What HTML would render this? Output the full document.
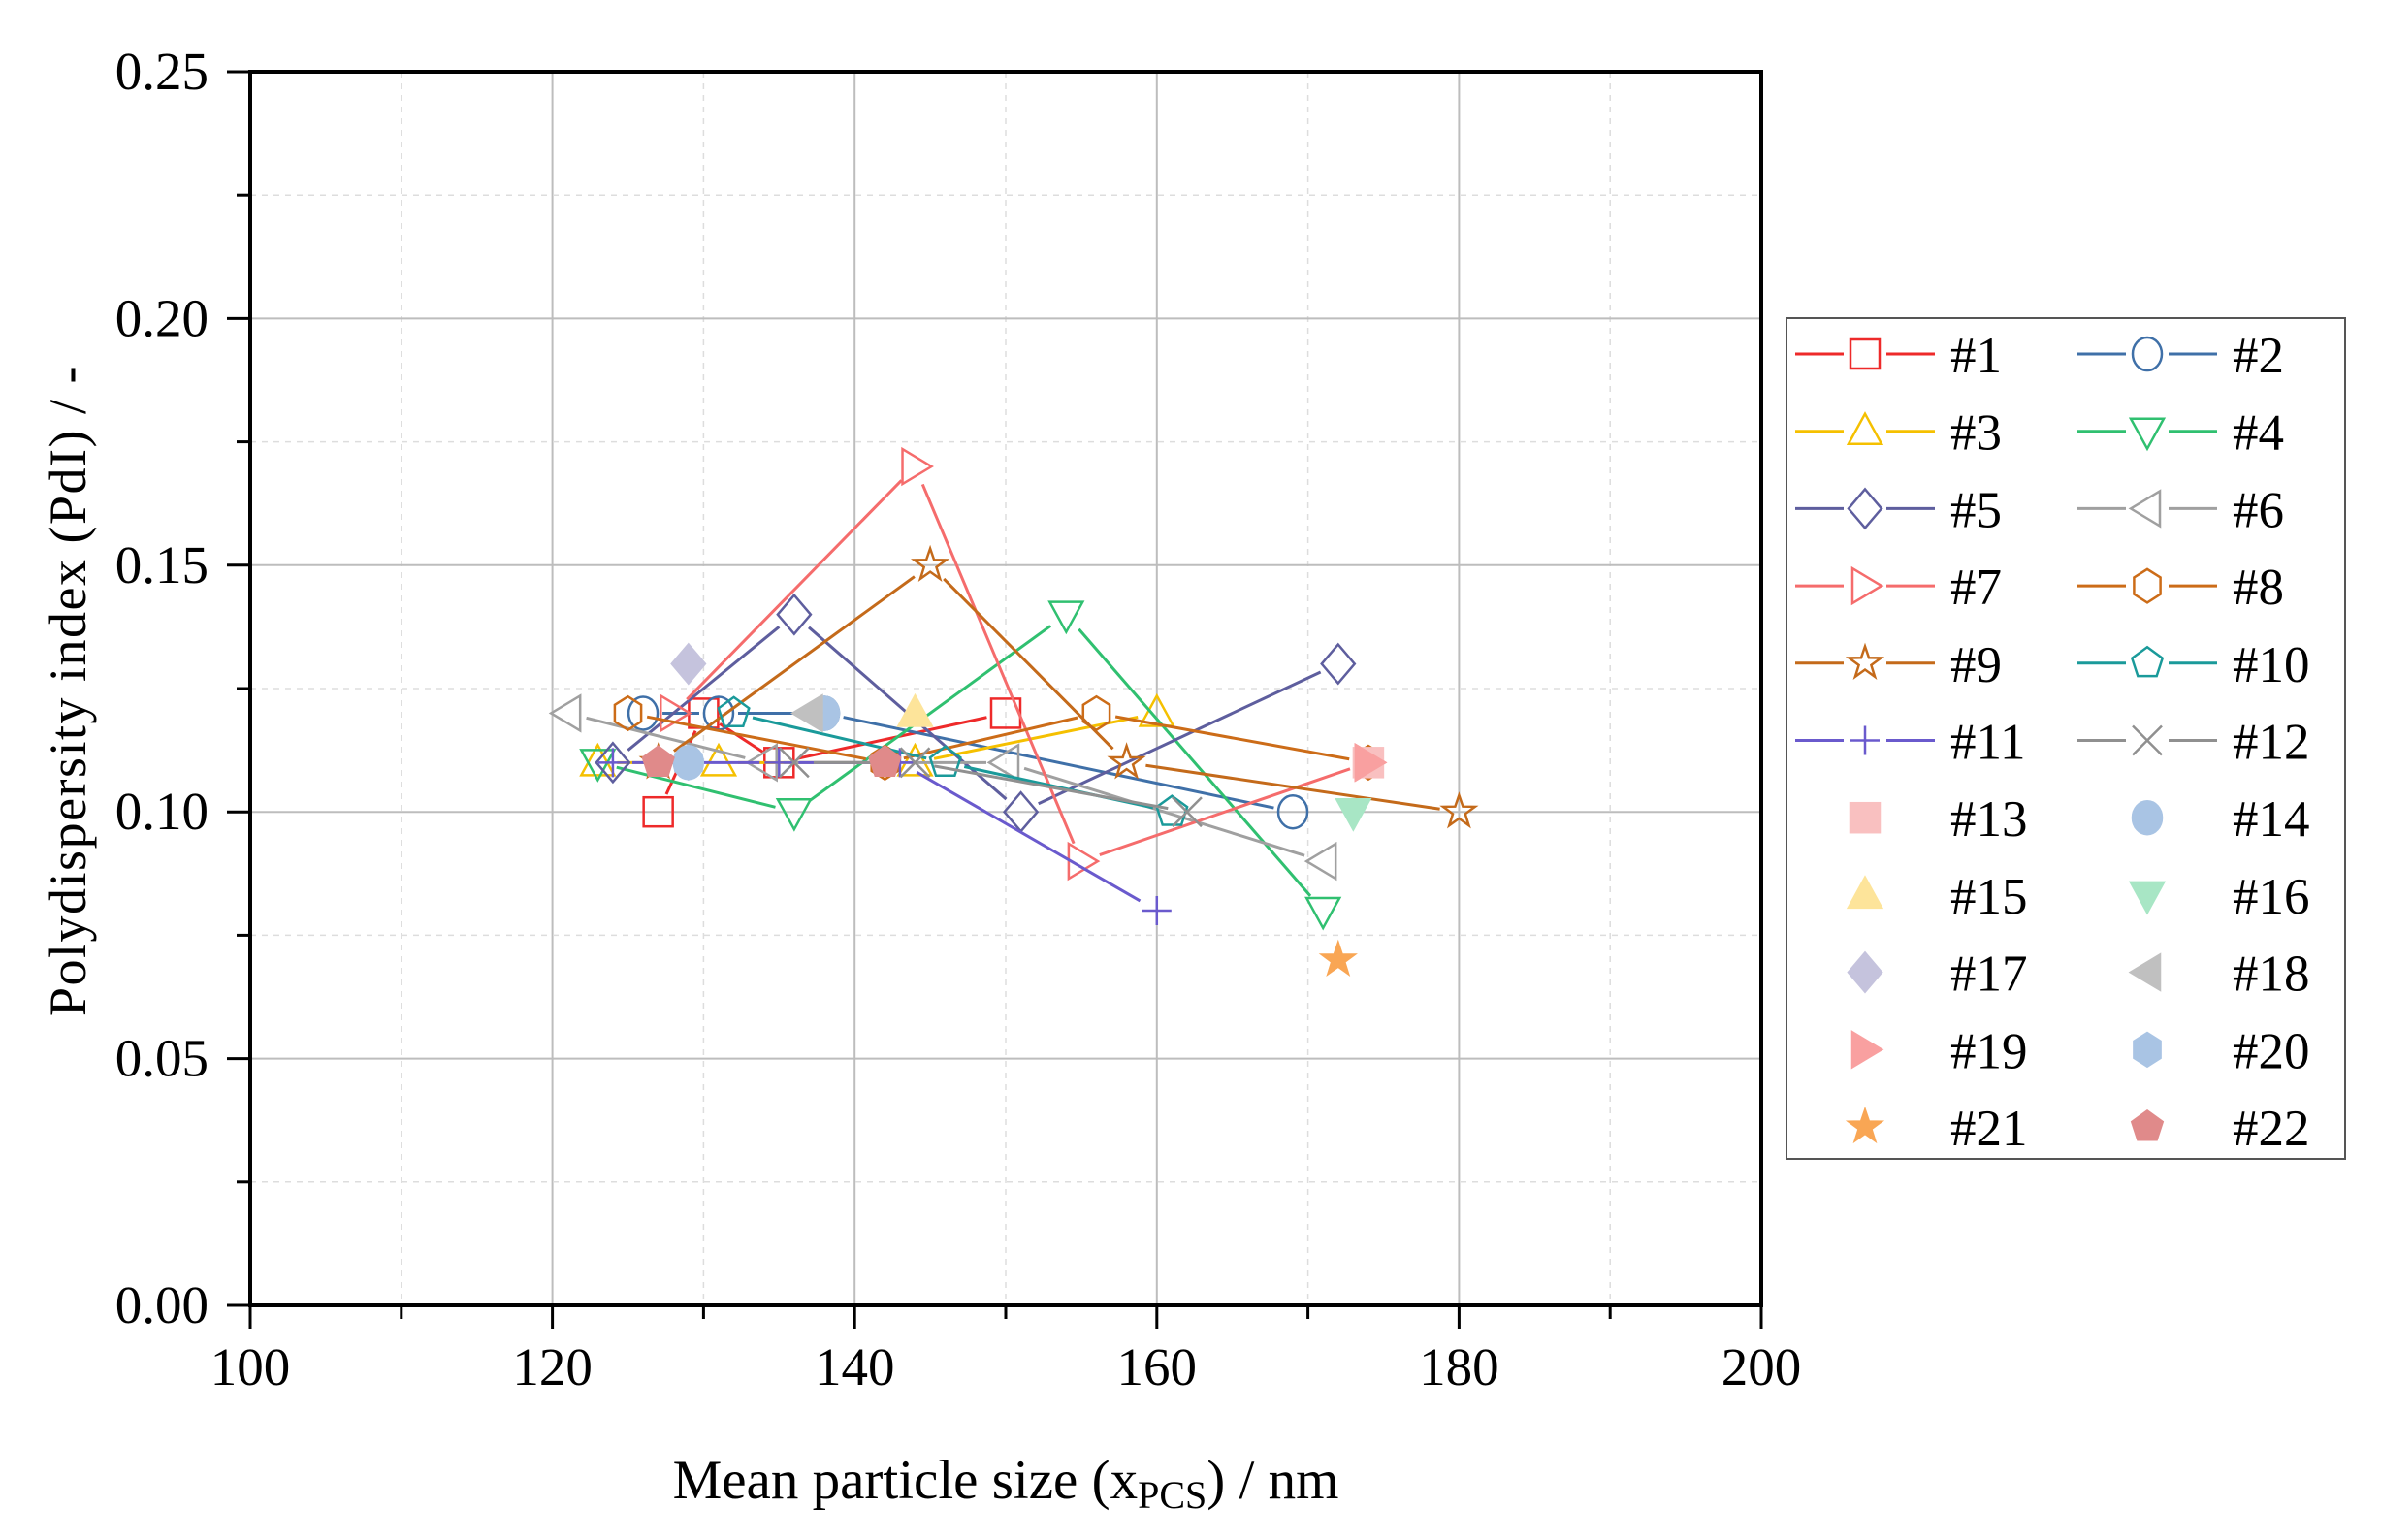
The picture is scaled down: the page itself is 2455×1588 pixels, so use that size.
<!DOCTYPE html>
<html><head><meta charset="utf-8">
<style>
html,body{margin:0;padding:0;background:#fff;}
svg{display:block;font-family:"Liberation Serif",serif;}
</style></head>
<body>
<svg id="s" width="2455" height="1588" viewBox="0 0 2455 1588" xmlns="http://www.w3.org/2000/svg"></svg>
<script>
const S=document.getElementById('s');
let h='';
const X0=258,X1=1816,Y0=1346,Y1=74;
const px=x=>X0+(x-100)*(X1-X0)/100;
const py=y=>Y0-(y)*(Y0-Y1)/0.25;
for(let v=110;v<200;v+=10){const x=px(v);const maj=v%20==0;
 h+=`<line x1="${x}" y1="${Y1}" x2="${x}" y2="${Y0}" stroke="${maj?'#bdbdbd':'#dddddd'}" stroke-width="${maj?2:1.5}" ${maj?'':'stroke-dasharray="6,6"'}/>`;}
for(let i=1;i<10;i++){const v=i*0.025;const y=py(v);const maj=i%2==0;
 h+=`<line x1="${X0}" y1="${y}" x2="${X1}" y2="${y}" stroke="${maj?'#bdbdbd':'#dddddd'}" stroke-width="${maj?2:1.5}" ${maj?'':'stroke-dasharray="6,6"'}/>`;}
for(let v=100;v<=200;v+=10){const x=px(v);const maj=v%20==0;
 h+=`<line x1="${x}" y1="${Y0}" x2="${x}" y2="${Y0+(maj?24:14)}" stroke="#000" stroke-width="3"/>`;
 if(maj)h+=`<text x="${x}" y="1428" font-size="55" text-anchor="middle">${v}</text>`;}
for(let i=0;i<=10;i++){const y=py(i*0.025);const maj=i%2==0;
 h+=`<line x1="${X0}" y1="${y}" x2="${X0-(maj?24:14)}" y2="${y}" stroke="#000" stroke-width="3"/>`;
 if(maj)h+=`<text x="215" y="${y+18}" font-size="55" text-anchor="end">${(i*0.025).toFixed(2)}</text>`;}
h+=`<rect x="${X0}" y="${Y1}" width="${X1-X0}" height="${Y0-Y1}" fill="none" stroke="#000" stroke-width="4"/>`;
h+=`<text x="1037" y="1545" font-size="57" text-anchor="middle">Mean particle size (x<tspan font-size="40" dy="10">PCS</tspan><tspan dy="-10">) / nm</tspan></text>`;
h+=`<text transform="translate(88,712) rotate(-90)" font-size="54" text-anchor="middle" letter-spacing="1.5">Polydispersity index (PdI) / -</text>`;
function mk(t,x,y,c,fill){const r=15;const f=fill?c:'none';const st=`stroke="${c}" stroke-width="2.5" fill="${f}"`;
 switch(t){
 case 'sq':return `<rect x="${x-r}" y="${y-r}" width="${2*r}" height="${2*r}" ${st}/>`;
 case 'ci':return `<ellipse cx="${x}" cy="${y}" rx="${r}" ry="${r+2}" ${st}/>`;
 case 'tu':return `<polygon points="${x},${y-r-3} ${x+r+2},${y+r-2} ${x-r-2},${y+r-2}" ${st}/>`;
 case 'td':return `<polygon points="${x},${y+r+3} ${x+r+2},${y-r+2} ${x-r-2},${y-r+2}" ${st}/>`;
 case 'di':return `<polygon points="${x},${y-r-5} ${x+r+2},${y} ${x},${y+r+5} ${x-r-2},${y}" ${st}/>`;
 case 'tl':return `<polygon points="${x-r-2},${y} ${x+r-2},${y-r-3} ${x+r-2},${y+r+3}" ${st}/>`;
 case 'tr':return `<polygon points="${x+r+2},${y} ${x-r+2},${y-r-3} ${x-r+2},${y+r+3}" ${st}/>`;
 case 'hx':{let p=[];for(let k=0;k<6;k++){const a=Math.PI/3*k+Math.PI/6;p.push((x+r*1.05*Math.cos(a)).toFixed(1)+','+(y+r*1.15*Math.sin(a)).toFixed(1));}return `<polygon points="${p.join(' ')}" ${st}/>`;}
 case 'st':{let p=[];for(let k=0;k<10;k++){const a=-Math.PI/2+Math.PI/5*k;const rr=k%2?r*0.45:r*1.15;p.push((x+rr*Math.cos(a)).toFixed(1)+','+(y+rr*Math.sin(a)).toFixed(1));}return `<polygon points="${p.join(' ')}" ${st}/>`;}
 case 'pe':{let p=[];for(let k=0;k<5;k++){const a=-Math.PI/2+2*Math.PI/5*k;p.push((x+r*1.1*Math.cos(a)).toFixed(1)+','+(y+r*1.1*Math.sin(a)).toFixed(1));}return `<polygon points="${p.join(' ')}" ${st}/>`;}
 case 'pl':return `<path d="M${x-r} ${y}H${x+r}M${x} ${y-r}V${y+r}" stroke="${c}" stroke-width="2.5"/>`;
 case 'xx':return `<path d="M${x-r} ${y-r}L${x+r} ${y+r}M${x+r} ${y-r}L${x-r} ${y+r}" stroke="${c}" stroke-width="2.5"/>`;
 }}
const series=[
 ['sq','#ee2a2a',[[127,.10],[130,.12],[135,.11],[150,.12]]],
 ['ci','#3f70a8',[[126,.12],[131,.12],[138,.12],[169,.10]]],
 ['tu','#f5c000',[[123,.11],[131,.11],[144,.11],[160,.12]]],
 ['td','#30c070',[[123,.11],[136,.10],[154,.14],[171,.08]]],
 ['di','#5e5e9e',[[124,.11],[136,.14],[151,.10],[172,.13]]],
 ['tl','#a0a0a0',[[121,.12],[134,.11],[150,.11],[171,.09]]],
 ['tr','#f56c6c',[[128,.12],[144,.17],[155,.09],[174,.11]]],
 ['hx','#cc6c18',[[125,.12],[142,.11],[156,.12],[174,.11]]],
 ['st','#c46a1a',[[127,.11],[145,.15],[158,.11],[180,.10]]],
 ['pe','#1a9a9a',[[132,.12],[146,.11],[161,.10]]],
 ['pl','#6a5acd',[[124,.11],[135,.11],[143,.11],[160,.08]]],
 ['xx','#909090',[[136,.11],[144,.11],[162,.10]]],
];
const filled=[
 ['sq','#f9c0c0',[[174,.11]]],['ci','#a9c4e4',[[138,.12],[129,.11]]],['tu','#fde49a',[[144,.12]]],
 ['td','#a8e6c5',[[173,.10]]],['di','#c5c3dd',[[129,.13]]],['tl','#c0c0c0',[[137,.12]]],
 ['tr','#f9a0a0',[[174,.11]]],['hx','#a9c4e4',[[129,.11]]],['st','#f9a654',[[172,.07]]],['pe','#e08a8a',[[127,.11],[142,.11]]]
];
const g=20;
for(const [t,c,pts] of series){
 for(let i=0;i<pts.length-1;i++){let ax=px(pts[i][0]),ay=py(pts[i][1]),bx=px(pts[i+1][0]),by=py(pts[i+1][1]);
  const L=Math.hypot(bx-ax,by-ay);if(L<2*g)continue;const ux=(bx-ax)/L,uy=(by-ay)/L;
  h+=`<line x1="${ax+ux*g}" y1="${ay+uy*g}" x2="${bx-ux*g}" y2="${by-uy*g}" stroke="${c}" stroke-width="3"/>`;}
 for(const p of pts)h+=mk(t,px(p[0]),py(p[1]),c,false);}
for(const [t,c,pts] of filled)for(const p of pts)h+=mk(t,px(p[0]),py(p[1]),c,true);
h+=`<rect x="1842" y="328" width="576" height="867" fill="#fff" stroke="#555" stroke-width="2"/>`;
const all=series.concat(filled);
for(let i=0;i<22;i++){const col=i%2,row=Math.floor(i/2);const y=365+row*79.7;
 const lx=col?2142:1851,mx=col?2214:1923,tx=col?2302:2011;const [t,c]=all[i];
 if(i<12){h+=`<line x1="${lx}" y1="${y}" x2="${mx-22}" y2="${y}" stroke="${c}" stroke-width="3"/><line x1="${mx+22}" y1="${y}" x2="${lx+144}" y2="${y}" stroke="${c}" stroke-width="3"/>`;}
 h+=mk(t,mx,y,c,i>=12);
 h+=`<text x="${tx}" y="${y+19}" font-size="53">#${i+1}</text>`;}
S.innerHTML=h;
</script>
</body></html>
